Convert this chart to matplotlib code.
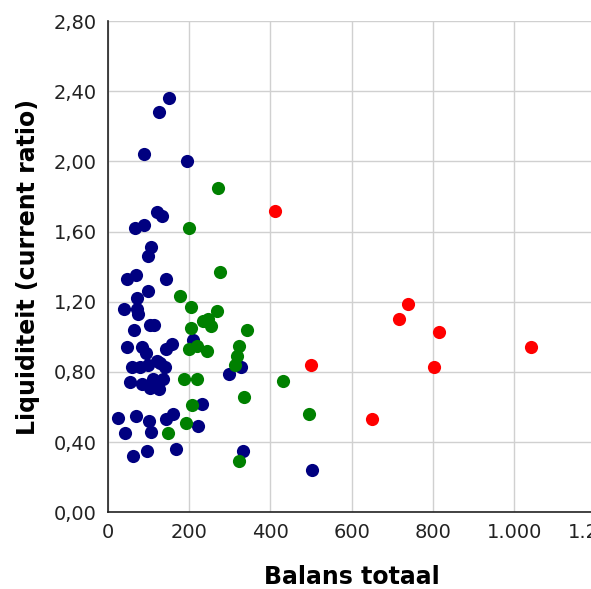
import matplotlib.pyplot as plt
from matplotlib.ticker import FuncFormatter

# Balans totaal (x) / current ratio (y) per groep
navy_x = [151, 125, 89, 194, 120, 134, 89, 66, 106, 99, 47, 68, 144, 99, 71, 39, 71, 75,
          103, 113, 64, 48, 83, 93, 144, 157, 210, 58, 79, 99, 120, 128, 140, 54, 83, 103,
          126, 112, 136, 297, 327, 231, 24, 68, 101, 144, 159, 41, 105, 222, 61, 95, 167,
          332, 502]
navy_y = [2.36, 2.28, 2.04, 2.00, 1.71, 1.69, 1.64, 1.62, 1.51, 1.46, 1.33, 1.35, 1.33, 1.26,
          1.22, 1.16, 1.16, 1.13, 1.07, 1.07, 1.04, 0.94, 0.94, 0.91, 0.93, 0.96, 0.98, 0.83,
          0.83, 0.84, 0.86, 0.85, 0.83, 0.74, 0.73, 0.71, 0.70, 0.76, 0.76, 0.79, 0.83, 0.62,
          0.54, 0.55, 0.52, 0.53, 0.56, 0.45, 0.46, 0.49, 0.32, 0.35, 0.36, 0.35, 0.24]

green_x = [271, 199, 277, 177, 204, 269, 235, 247, 253, 204, 343, 323, 200, 218, 243, 318,
           313, 187, 220, 430, 336, 208, 191, 147, 322, 496]
green_y = [1.85, 1.62, 1.37, 1.23, 1.17, 1.15, 1.09, 1.10, 1.06, 1.05, 1.04, 0.95, 0.93, 0.95,
           0.92, 0.89, 0.84, 0.76, 0.76, 0.75, 0.66, 0.61, 0.51, 0.45, 0.29, 0.56]

red_x = [410, 738, 717, 816, 1041, 803, 499, 651]
red_y = [1.72, 1.19, 1.10, 1.03, 0.94, 0.83, 0.84, 0.53]

plt.rcParams['font.family'] = ['DejaVu Sans']

fig = plt.figure(figsize=(5.91, 5.89), dpi=100)
ax = fig.add_axes([0.1827, 0.1302, 0.8248, 0.8341])

ax.scatter(navy_x, navy_y, s=90, color='#000080', linewidths=0, zorder=3)
ax.scatter(green_x, green_y, s=90, color='#008000', linewidths=0, zorder=3)
ax.scatter(red_x, red_y, s=90, color='#ff0000', linewidths=0, zorder=3)

ax.set_xlim(0, 1200)
ax.set_ylim(0, 2.8)
ax.set_xticks(range(0, 1201, 200))
ax.set_yticks([i * 0.4 for i in range(8)])
ax.xaxis.set_major_formatter(FuncFormatter(lambda v, p: f"{int(v):,}".replace(",", ".")))
ax.yaxis.set_major_formatter(FuncFormatter(lambda v, p: f"{v:.2f}".replace(".", ",")))
ax.tick_params(length=0, labelsize=14, colors='#222222', pad=8)

ax.grid(True, color='#d0d0d0', linewidth=1)
ax.set_axisbelow(True)
for s in ['top', 'right']:
    ax.spines[s].set_visible(False)
for s in ['left', 'bottom']:
    ax.spines[s].set_color('#222222')
    ax.spines[s].set_linewidth(1.2)

ax.set_xlabel("Balans totaal", fontsize=17, fontweight='bold', labelpad=16)
ax.set_ylabel("Liquiditeit (current ratio)", fontsize=17, fontweight='bold', labelpad=10)

fig.savefig("out.png", dpi=100)
